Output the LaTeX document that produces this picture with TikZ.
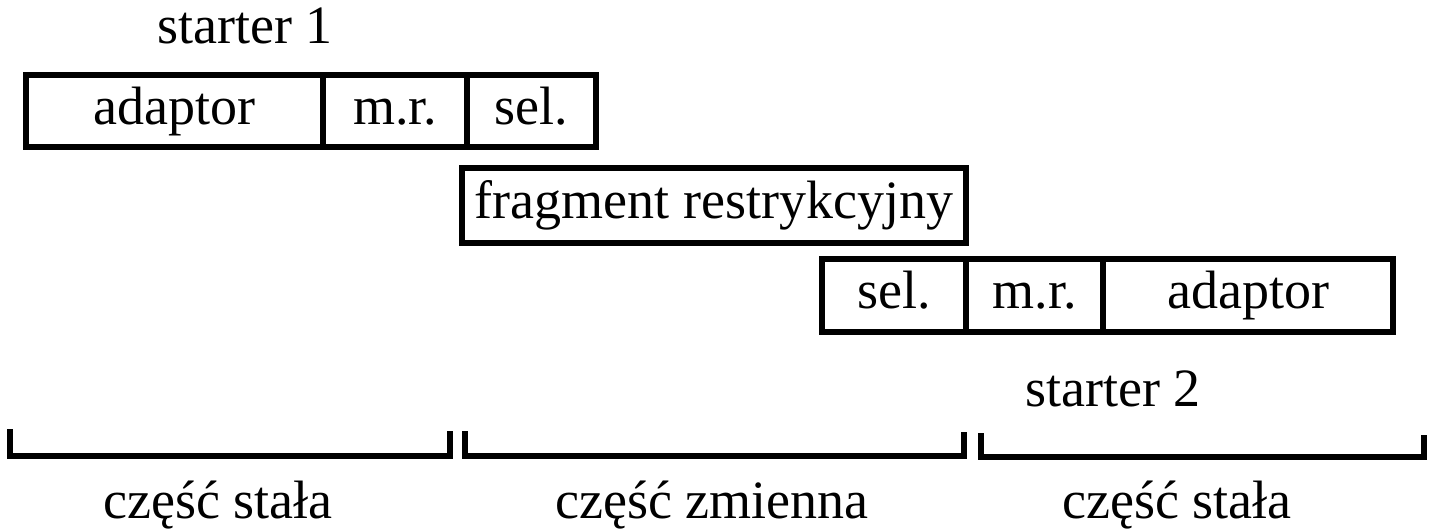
\documentclass[tikz,border=0pt]{standalone}
\usepackage{fontspec}
\setmainfont{Liberation Serif}
\begin{document}
\begin{tikzpicture}[x=0.5pt,y=-0.5pt,
  cell/.style={draw, line width=3.4pt, inner sep=0pt, minimum height=36pt, text height=18pt, text depth=5pt, font=\fontsize{27}{32}\selectfont},
  lbl/.style={inner sep=0pt, text height=18pt, text depth=5pt, font=\fontsize{27}{32}\selectfont},
  brk/.style={line width=3.2pt, line cap=butt, line join=miter}]
\useasboundingbox (0,0) rectangle (1438,531);
% top row (starter 1)
\node[cell, minimum width=148.5pt] (a1) at (174.5,111) {adaptor};
\node[cell, minimum width=72pt] (m1) at (395,111) {m.r.};
\node[cell, minimum width=64.5pt] (s1) at (531.5,111) {sel.};
\node[lbl] (t1) at (245,30) {starter 1};
% middle
\node[cell, minimum width=252pt, minimum height=37.5pt] (fr) at (714,205.5) {fragment restrykcyjny};
% bottom row (starter 2)
\node[cell, minimum width=72pt, minimum height=36.5pt] (s2) at (894,295.5) {sel.};
\node[cell, minimum width=68.5pt, minimum height=36.5pt] (m2) at (1034.5,295.5) {m.r.};
\node[cell, minimum width=145pt, minimum height=36.5pt] (a2) at (1248,295.5) {adaptor};
\node[lbl] (t2) at (1113,393) {starter 2};
% brackets
\draw[brk] (10,429) -- (10,456) -- (450,456) -- (450,431);
\draw[brk] (465,431) -- (465,456) -- (964,456) -- (964,432);
\draw[brk] (981,433) -- (981,457) -- (1424,457) -- (1424,435);
\node[lbl] (c1) at (218,505) {część stała};
\node[lbl] (c2) at (712,505) {część zmienna};
\node[lbl] (c3) at (1177,505) {część stała};
\end{tikzpicture}
\end{document}
